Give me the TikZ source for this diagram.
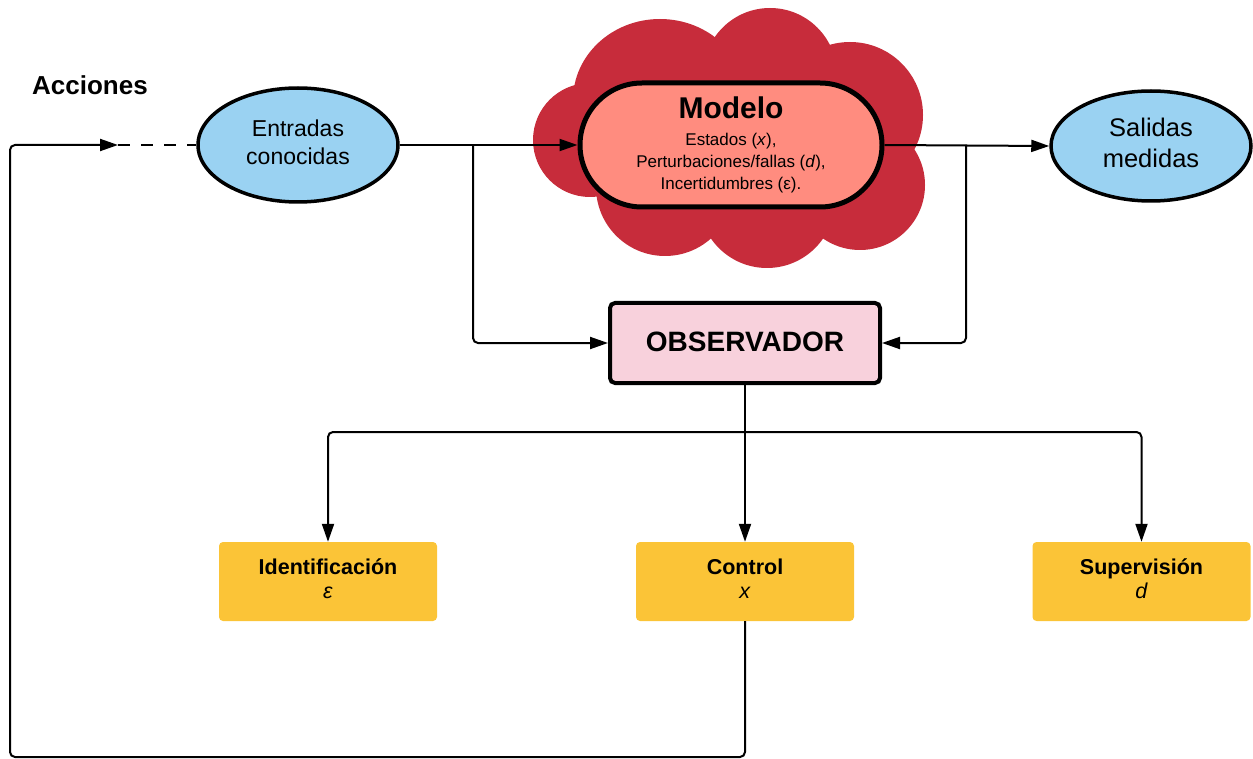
\documentclass[tikz,border=0pt]{standalone}
\usepackage{fontspec}
\setmainfont{Liberation Sans}
\usetikzlibrary{arrows.meta,shapes.geometric,shapes.misc}
\definecolor{cloudred}{RGB}{199,44,59}
\definecolor{modelfill}{RGB}{255,140,127}
\definecolor{ellblue}{RGB}{154,210,242}
\definecolor{obspink}{RGB}{248,209,220}
\definecolor{taskyellow}{RGB}{251,196,55}
% centred lines, lifted a little inside their box
\newcommand{\liftlines}[2]{\raisebox{#1}{\begin{tabular}{@{}c@{}}#2\end{tabular}}}

\begin{document}
\begin{tikzpicture}[x=1pt,y=-1pt,
  conn/.style={line width=2pt, rounded corners=5pt},
  tip/.style={-{Triangle[length=18pt,width=12pt]}},
  io/.style={ellipse, draw, line width=3.5pt, fill=ellblue, minimum width=200pt,
    minimum height=114pt, align=center, inner sep=0pt},
  task/.style={rectangle, rounded corners=4pt, fill=taskyellow, minimum width=218pt,
    minimum height=79pt, align=center, inner sep=0pt,
    font=\fontsize{21.5}{24}\selectfont},
]
\useasboundingbox (0,0) rectangle (1253,759);

% cloud behind the model
\begin{scope}[cloudred]
  \fill (740,150) ellipse[x radius=150pt, y radius=80pt];
  \fill (660,100) ellipse[x radius=87pt, y radius=81pt];
  \fill (770,75) circle[radius=67pt];
  \fill (850,115) circle[radius=73pt];
  \fill (860,185) circle[radius=65pt];
  \fill (767,200) circle[radius=68pt];
  \fill (665,187) circle[radius=69pt];
  \fill (590,140) circle[radius=57pt];
\end{scope}

% nodes
\node[font=\fontsize{26}{30}\selectfont\bfseries] (acciones) at (90,85) {Acciones};
\node[io, font=\fontsize{23}{28}\selectfont] (ent) at (298,145)
  {\liftlines{4pt}{Entradas\\conocidas}};
\node[io, font=\fontsize{25.5}{31}\selectfont, minimum height=110pt] (sal) at (1151,146)
  {\liftlines{3pt}{Salidas\\medidas}};
\node[rounded rectangle, draw, line width=5pt, fill=modelfill, minimum width=302pt,
  minimum height=124pt, align=center, inner sep=0pt,
  font=\fontsize{17}{22}\selectfont] (mod) at (731,145)
  {{\fontsize{30}{34}\selectfont\bfseries Modelo}\\[5pt]
   Estados (\textit{x}),\\
   Perturbaciones/fallas (\textit{d}),\\
   Incertidumbres (ε).};
\node[rectangle, rounded corners=5pt, draw, line width=4pt, fill=obspink,
  minimum width=270pt, minimum height=80pt, inner sep=0pt,
  font=\fontsize{28}{32}\selectfont\bfseries] (obs) at (745,343)
  {\raisebox{2.5pt}{OBSERVADOR}};
\node[task] (idf) at (328,581.5) {\liftlines{3.5pt}{\textbf{Identificación}\\\textit{ε}}};
\node[task] (ctl) at (745,581.5) {\liftlines{3.5pt}{\textbf{Control}\\\textit{x}}};
\node[task] (sup) at (1141.5,581.5) {\liftlines{3.5pt}{\textbf{Supervisión}\\\textit{d}}};

% junctions and loop end
\coordinate (jl) at (473,145);
\coordinate (jr) at (966,145);
\coordinate (split) at (745,432);
\coordinate (acc) at (118,145);
\coordinate (cornerB) at (10,757);

% connectors
\draw[conn,tip] (ent.east) -- (mod.west);
\draw[conn,tip] (mod.east) -- (sal.west);
\draw[conn,tip] (jl) |- (obs.west);
\draw[conn,tip] (jr) |- (obs.east);
\draw[conn,tip] (obs.south) -- (ctl.north);
\draw[conn,tip] (split) -| (idf.north);
\draw[conn,tip] (split) -| (sup.north);
\draw[conn,tip] (ctl.south) |- (cornerB) |- (acc);
\draw[line width=2pt, dash pattern=on 12pt off 11pt] (acc) -- (ent.west);
\end{tikzpicture}
\end{document}
